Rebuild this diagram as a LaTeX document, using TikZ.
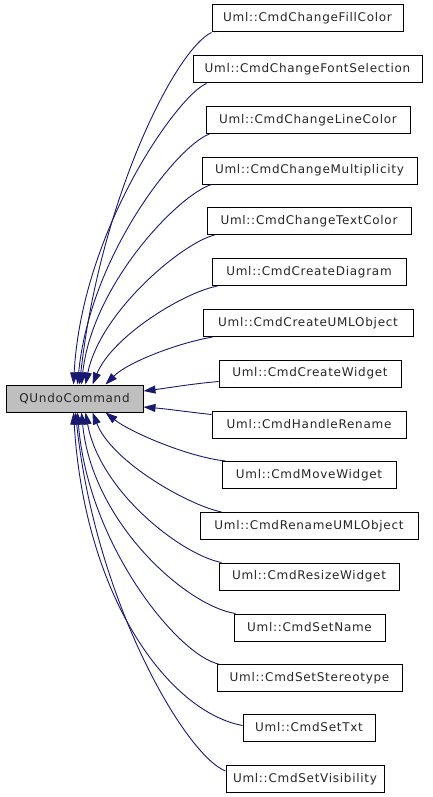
\documentclass[tikz,border=0pt]{standalone}
\usepackage{fontspec}
\setmainfont{DejaVu Sans}[LetterSpace=6]
\usetikzlibrary{arrows.meta}
\definecolor{edgeblue}{HTML}{191970}
\definecolor{parentgray}{HTML}{BFBFBF}
\tikzset{
  cls/.style={draw=black, line width=1pt, minimum height=27pt, inner sep=0pt, anchor=center,
    font=\fontsize{12}{14}\selectfont, text=black!85},
  base/.style={cls, fill=parentgray},
  inh/.style={draw=edgeblue, line width=0.9pt, -{Triangle[length=12pt,width=8pt]}}
}
\begin{document}
\begin{tikzpicture}[x=1pt,y=-1pt]
\useasboundingbox (0,0) rectangle (432,797);
\node[base, minimum width=137pt] (p) at (74.5,398.5) {QUndoCommand};
\node[cls, minimum width=191pt] (c1) at (307.5,18.5) {Uml::CmdChangeFillColor};
\node[cls, minimum width=229pt] (c2) at (307.5,69.5) {Uml::CmdChangeFontSelection};
\node[cls, minimum width=204pt] (c3) at (308,120) {Uml::CmdChangeLineColor};
\node[cls, minimum width=215pt] (c4) at (309.5,170.5) {Uml::CmdChangeMultiplicity};
\node[cls, minimum width=204pt] (c5) at (309,221) {Uml::CmdChangeTextColor};
\node[cls, minimum width=194pt] (c6) at (309,272) {Uml::CmdCreateDiagram};
\node[cls, minimum width=210pt] (c7) at (308,323) {Uml::CmdCreateUMLObject};
\node[cls, minimum width=182pt] (c8) at (310,373.5) {Uml::CmdCreateWidget};
\node[cls, minimum width=194pt] (c9) at (309,424.5) {Uml::CmdHandleRename};
\node[cls, minimum width=174pt] (c10) at (309,475) {Uml::CmdMoveWidget};
\node[cls, minimum width=218pt] (c11) at (309,526) {Uml::CmdRenameUMLObject};
\node[cls, minimum width=180pt] (c12) at (309,576.5) {Uml::CmdResizeWidget};
\node[cls, minimum width=151pt] (c13) at (309.5,627.5) {Uml::CmdSetName};
\node[cls, minimum width=185pt] (c14) at (309.5,678) {Uml::CmdSetStereotype};
\node[cls, minimum width=132pt] (c15) at (309,727.5) {Uml::CmdSetTxt};
\node[cls, minimum width=158pt] (c16) at (305,779) {Uml::CmdSetVisibility};
% upper edges
\draw[inh] (c1.south west) .. controls (175,50) and (100,200) .. ([xshift=74pt]p.north west);
\draw[inh] ([xshift=14pt]c2.south west) .. controls (178,95) and (82,230) .. ([xshift=68pt]p.north west);
\draw[inh] ([xshift=4pt]c3.south west) .. controls (178,145) and (90,255) .. ([xshift=72pt]p.north west);
\draw[inh] ([xshift=10pt]c4.south west) .. controls (178,195) and (92,285) .. ([xshift=76pt]p.north west);
\draw[inh] ([xshift=8pt]c5.south west) .. controls (182,243) and (100,312) .. ([xshift=80pt]p.north west);
\draw[inh] ([xshift=6pt]c6.south west) .. controls (182,293) and (112,337) .. ([xshift=87pt]p.north west);
\draw[inh] ([xshift=10pt]c7.south west) .. controls (178,343) and (128,362) .. ([xshift=100pt]p.north west);
% side edges
\draw[inh] ([yshift=-8pt]c8.west) .. controls (190,384) and (168,388) .. ([yshift=7.5pt]p.east);
\draw[inh] ([yshift=10pt]c9.west) .. controls (188,412) and (168,409) .. ([yshift=-8.5pt]p.east);
% lower edges
\draw[inh] ([xshift=4pt]c10.north west) .. controls (188,457) and (130,432) .. ([xshift=100pt]p.south west);
\draw[inh] ([xshift=22pt]c11.north west) .. controls (188,505) and (112,462) .. ([xshift=87pt]p.south west);
\draw[inh] ([xshift=3pt]c12.north west) .. controls (182,555) and (100,492) .. ([xshift=80pt]p.south west);
\draw[inh] ([xshift=2pt]c13.north west) .. controls (186,606) and (92,522) .. ([xshift=76pt]p.south west);
\draw[inh] ([xshift=2pt]c14.north west) .. controls (178,655) and (88,545) .. ([xshift=72pt]p.south west);
\draw[inh] ([yshift=2pt]c15.west) .. controls (170,712) and (85,600) .. ([xshift=68pt]p.south west);
\draw[inh] ([yshift=8pt]c16.west) .. controls (185,755) and (95,600) .. ([xshift=70pt]p.south west);
\end{tikzpicture}
\end{document}
